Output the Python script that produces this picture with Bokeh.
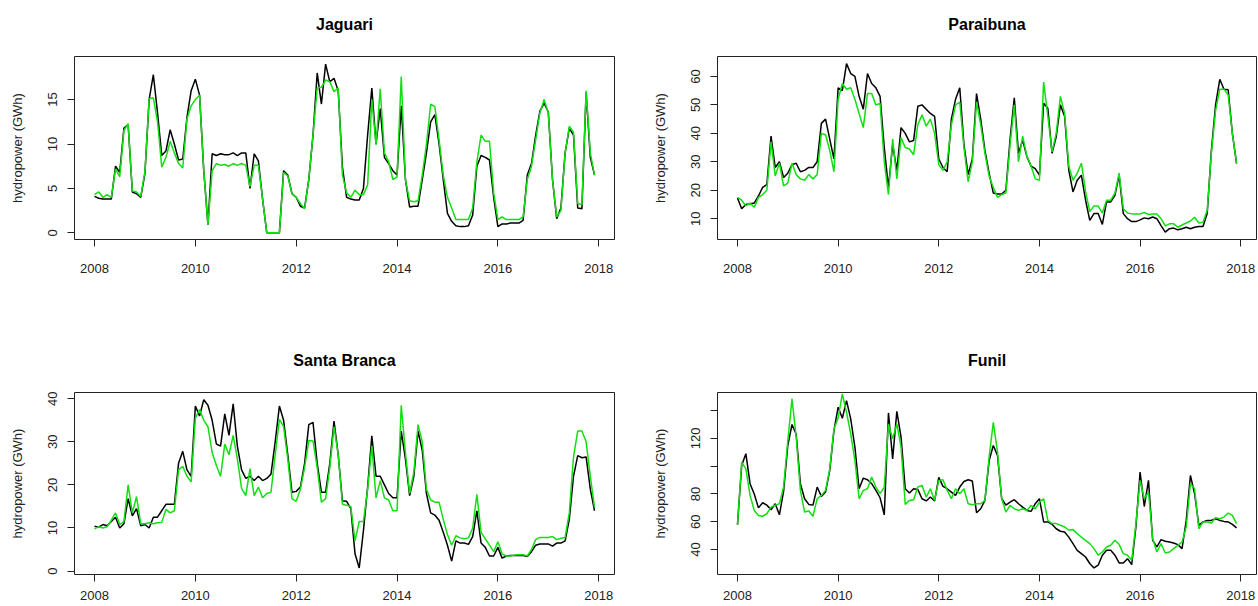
import numpy as np
from bokeh.plotting import figure
from bokeh.layouts import column, row
from bokeh.models import FixedTicker, Range1d, Title
from bokeh.embed import file_html
from bokeh.resources import INLINE

# monthly time index, Jan 2008 .. Dec 2017
years = 2008 + np.arange(120) / 12.0

jaguari_obs = [4.1, 3.9, 3.8, 3.8, 3.8, 7.5, 6.8, 11.8, 12.2, 4.6, 4.4, 4.0,
               6.7, 15.0, 17.8, 13.5, 8.7, 9.2, 11.6, 10.0, 8.2, 8.3, 13.0, 16.0,
               17.3, 15.5, 7.0, 0.9, 8.9, 8.7, 8.9, 8.8, 8.8, 9.0, 8.7, 9.0,
               9.0, 5.0, 8.9, 8.1, 3.8, 0.0, 0.0, 0.0, 0.0, 7.0, 6.5, 4.4,
               4.0, 3.0, 2.8, 6.0, 11.0, 18.0, 14.5, 19.0, 17.0, 17.4, 16.0, 7.4,
               4.0, 3.8, 3.7, 3.7, 5.0, 11.0, 16.3, 10.0, 14.0, 8.5, 7.8, 7.0,
               6.5, 14.3, 6.0, 2.9, 3.0, 3.0, 6.0, 9.0, 12.5, 13.3, 10.0, 6.0,
               2.2, 1.3, 0.8, 0.7, 0.7, 0.8, 2.0, 7.5, 8.7, 8.5, 8.2, 4.0,
               0.7, 1.0, 1.0, 1.1, 1.1, 1.1, 1.4, 6.5, 7.8, 11.0, 13.7, 14.6,
               13.6, 6.0, 1.6, 2.8, 9.0, 11.8, 11.0, 2.8, 2.7, 15.8, 8.5, 6.5]
jaguari_sim = [4.3, 4.6, 4.0, 4.3, 4.0, 7.2, 6.3, 11.5, 12.3, 4.7, 4.6, 4.1,
               6.9, 15.1, 15.2, 12.5, 7.4, 8.5, 10.3, 9.0, 7.8, 7.3, 12.8, 14.3,
               15.0, 15.5, 7.0, 0.9, 7.0, 7.8, 7.6, 7.7, 7.5, 7.8, 7.6, 7.8,
               7.6, 5.2, 7.6, 7.6, 3.8, 0.0, 0.0, 0.0, 0.0, 6.8, 6.4, 4.4,
               4.0, 3.3, 2.7, 6.0, 11.0, 16.3, 16.4, 17.2, 17.0, 15.9, 16.3, 6.5,
               4.5, 4.0, 4.8, 4.3, 4.3, 5.4, 15.0, 9.9, 16.2, 9.0, 8.0, 6.0,
               6.3, 17.6, 6.0, 3.6, 3.5, 3.6, 6.5, 10.0, 14.5, 14.2, 10.5, 6.5,
               4.0, 2.8, 1.5, 1.5, 1.5, 1.5, 2.8, 8.0, 11.0, 10.3, 10.3, 4.5,
               1.5, 1.8, 1.5, 1.5, 1.5, 1.5, 1.8, 6.0, 7.5, 10.5, 13.5, 15.0,
               13.5, 6.0, 1.8, 2.5, 9.0, 12.0, 11.3, 3.3, 3.2, 16.0, 9.0, 6.5]

paraibuna_obs = [17.3, 13.5, 15.0, 15.3, 15.5, 18.0, 21.0, 22.0, 39.0, 28.0, 30.0, 24.5,
                 26.0, 29.0, 29.5, 26.5, 27.0, 28.0, 28.0, 30.0, 43.5, 45.0, 38.0, 31.0,
                 56.0, 55.0, 64.5, 61.0, 60.0, 53.0, 48.5, 61.0, 57.5, 56.0, 53.0, 35.0,
                 21.0, 36.0, 27.0, 42.0, 40.0, 37.0, 37.5, 49.5, 50.0, 48.5, 47.0, 46.0,
                 31.0, 28.0, 26.5, 45.0, 52.0, 56.0, 36.0, 25.5, 31.0, 54.0, 45.0, 34.0,
                 26.0, 19.0, 18.7, 18.7, 20.0, 38.0, 52.5, 33.0, 37.6, 31.8, 28.5, 27.6,
                 25.3, 50.6, 48.8, 33.0, 38.8, 50.0, 46.0, 27.0, 19.4, 23.5, 25.3, 16.5,
                 9.4, 11.8, 11.8, 8.0, 15.9, 15.9, 18.2, 25.3, 11.8, 10.0, 9.0, 9.0,
                 9.6, 10.3, 10.0, 10.6, 10.0, 7.6, 5.3, 6.5, 6.7, 6.1, 6.5, 7.0,
                 6.5, 7.0, 7.3, 7.3, 11.8, 34.0, 50.0, 59.0, 55.5, 55.3, 40.0, 29.4]
paraibuna_sim = [17.5, 16.5, 14.5, 15.5, 14.0, 17.5, 18.5, 20.0, 37.0, 25.0, 29.5, 21.5,
                 22.5, 29.5, 25.5, 24.0, 23.5, 25.5, 24.0, 25.5, 40.0, 39.5, 34.0, 26.5,
                 52.0, 57.5, 55.5, 56.0, 52.0, 47.0, 42.0, 54.0, 54.0, 50.0, 50.5, 30.0,
                 18.5, 38.0, 24.0, 38.5, 35.0, 34.5, 32.5, 43.0, 46.5, 42.5, 45.0, 40.0,
                 29.0, 27.0, 30.0, 43.0, 50.0, 51.0, 35.0, 23.0, 30.0, 51.0, 43.0, 33.0,
                 25.0, 21.0, 17.5, 18.5, 19.0, 36.0, 50.0, 30.0, 39.0, 32.0, 28.5, 24.0,
                 23.5, 58.0, 46.0, 33.5, 40.0, 53.0, 47.0, 28.5, 23.5, 26.0, 29.5, 19.5,
                 12.5, 14.5, 14.5, 12.0, 16.5, 16.5, 19.0, 26.0, 13.5, 12.0, 11.7, 11.7,
                 11.7, 12.2, 11.5, 11.7, 11.7, 10.0, 7.5, 8.2, 8.2, 7.0, 7.8, 8.5,
                 9.2, 10.5, 8.5, 8.8, 13.0, 33.0, 48.0, 55.5, 55.5, 53.5, 40.0, 29.5]

santa_branca_obs = [10.4, 10.2, 10.8, 10.5, 11.5, 12.5, 10.0, 11.0, 16.8, 12.8, 14.5, 10.5,
                    10.8, 10.0, 12.5, 12.5, 14.0, 15.5, 15.5, 15.5, 25.0, 27.8, 23.5, 22.0,
                    38.3, 36.0, 39.8, 38.5, 35.0, 29.5, 29.0, 36.5, 31.5, 38.8, 29.0, 23.5,
                    21.5, 22.0, 21.0, 22.0, 21.0, 21.5, 22.5, 30.0, 38.3, 35.0, 27.0, 18.3,
                    18.5, 19.5, 25.0, 34.0, 34.5, 25.0, 18.3, 18.3, 25.0, 34.8, 27.0, 16.3,
                    16.2, 14.5, 4.0, 0.7, 9.4, 19.5, 31.4, 22.0, 22.0, 20.0, 18.0, 17.0,
                    17.0, 32.5, 26.0, 17.5, 22.0, 32.5, 28.0, 18.0, 13.5, 13.0, 11.8, 9.0,
                    6.0, 2.3, 7.0, 6.5, 6.5, 6.2, 8.0, 14.0, 6.5, 5.5, 3.5, 3.5,
                    5.5, 3.0, 3.5, 3.6, 3.6, 3.6, 3.6, 3.4, 4.5, 6.0, 6.3, 6.3,
                    6.3, 5.8, 6.5, 6.5, 7.0, 12.0, 22.0, 26.8, 26.3, 26.5, 19.0, 14.0]
santa_branca_sim = [9.8, 10.3, 10.0, 10.3, 11.8, 13.5, 10.8, 11.5, 20.0, 13.5, 17.3, 11.0,
                    11.0, 11.2, 11.0, 11.2, 11.3, 14.3, 13.5, 14.0, 23.5, 24.3, 22.0, 20.7,
                    35.5, 37.5, 35.0, 33.5, 27.5, 24.5, 22.0, 29.5, 27.0, 31.5, 26.0, 19.2,
                    17.5, 23.8, 17.5, 19.5, 17.0, 18.0, 18.3, 27.0, 35.2, 33.5, 26.0, 16.8,
                    16.2, 19.0, 24.0, 30.3, 30.2, 24.0, 16.0, 16.8, 24.0, 33.5, 27.0, 15.5,
                    15.3, 15.0, 7.0, 11.5, 11.5, 19.0, 29.0, 17.0, 21.0, 17.0, 16.5, 14.0,
                    14.0, 38.5, 27.5, 18.0, 23.0, 34.0, 30.0, 19.0, 16.5, 16.0, 16.0, 12.0,
                    8.5, 6.0, 8.2, 7.7, 7.5, 7.7, 10.0, 17.8, 9.0, 7.5, 6.0, 4.5,
                    6.8, 4.0, 3.5, 3.5, 3.7, 3.8, 3.8, 3.5, 5.0, 7.3, 7.8, 7.8,
                    7.8, 8.0, 7.3, 7.6, 7.8, 13.5, 26.5, 32.5, 32.5, 30.0, 22.0, 14.8]

funil_obs = [58.0, 100.5, 109.0, 87.4, 80.0, 70.0, 73.7, 72.0, 68.7, 73.0, 65.0, 82.0,
             115.0, 130.0, 123.0, 87.4, 76.6, 72.5, 72.0, 85.0, 78.3, 81.4, 97.0, 125.6,
             142.4, 134.5, 147.2, 134.0, 113.7, 83.8, 91.4, 90.2, 87.4, 82.6, 77.3, 65.0,
             138.3, 105.3, 139.5, 120.9, 83.8, 80.7, 83.8, 83.3, 76.6, 75.0, 77.8, 75.0,
             92.0, 85.5, 83.8, 81.4, 79.0, 85.0, 89.0, 90.2, 89.3, 66.5, 69.4, 75.4,
             104.0, 114.9, 107.7, 76.6, 72.0, 74.2, 75.9, 73.0, 70.6, 68.2, 67.5, 73.0,
             76.6, 59.9, 59.9, 58.2, 55.0, 53.2, 52.7, 49.0, 44.3, 39.5, 37.1, 34.7,
             30.0, 26.8, 28.8, 36.0, 39.5, 39.5, 36.0, 30.4, 30.4, 33.5, 29.2, 56.3,
             95.7, 71.0, 89.8, 46.7, 41.9, 47.2, 46.0, 45.5, 44.8, 43.6, 40.7, 61.0,
             93.3, 80.2, 57.5, 59.9, 61.0, 61.0, 62.2, 61.0, 60.3, 59.9, 58.2, 55.6]
funil_sim = [58.0, 103.0, 98.0, 79.0, 68.2, 64.6, 64.0, 65.8, 70.6, 72.0, 73.0, 85.0,
             118.5, 148.4, 120.9, 82.6, 67.0, 67.8, 64.0, 76.6, 79.0, 82.6, 98.0, 126.8,
             134.7, 152.0, 138.8, 123.3, 104.0, 76.6, 82.6, 83.8, 92.2, 85.0, 80.2, 85.0,
             130.4, 119.7, 130.4, 113.7, 72.5, 75.4, 75.9, 85.0, 86.2, 77.8, 83.8, 75.4,
             89.8, 90.2, 82.6, 76.6, 83.8, 80.2, 83.8, 73.0, 72.3, 73.0, 73.0, 75.4,
             106.5, 131.6, 110.1, 76.6, 67.0, 71.8, 69.4, 68.2, 69.4, 68.2, 71.8, 69.4,
             74.2, 76.6, 61.0, 58.7, 58.7, 57.5, 56.3, 53.9, 54.4, 51.5, 49.0, 46.7,
             44.3, 40.7, 36.0, 38.3, 41.9, 43.1, 46.7, 43.8, 37.1, 36.0, 32.3, 58.7,
             89.8, 76.6, 81.4, 47.9, 38.3, 44.3, 37.6, 38.3, 40.7, 43.1, 45.5, 56.3,
             87.4, 83.8, 55.0, 59.9, 59.9, 59.2, 63.0, 62.2, 63.4, 66.3, 64.6, 58.7]

x_ticks = [2008, 2010, 2012, 2014, 2016, 2018]
jaguari_ticks = [0, 5, 10, 15]
paraibuna_ticks = [10, 20, 30, 40, 50, 60]
santa_branca_ticks = [0, 10, 20, 30, 40]
funil_ticks = [40, 60, 80, 100, 120, 140]
funil_tick_labels = {40: "40", 60: "60", 80: "80", 100: "", 120: "120", 140: ""}

FONT = "Liberation Sans"
GREEN = "#10E010"
X_RANGE = (2007.603, 2018.313)


def panel(title, obs, sim, yr, yticks, left, fw, right, top, fh, bottom, xstand, labels=None):
    p = figure(frame_width=fw, frame_height=fh,
               min_border_left=left, min_border_right=right,
               min_border_top=top, min_border_bottom=bottom,
               x_range=Range1d(*X_RANGE), y_range=Range1d(*yr),
               output_backend="svg", toolbar_location=None, title=title)
    p.line(years, obs, line_color="black", line_width=1.5)
    p.line(years, sim, line_color=GREEN, line_width=1.5)
    p.title.text_font = FONT
    p.title.text_font_size = "16px"
    p.title.text_font_style = "bold"
    p.title.text_color = "black"
    p.title.align = "center"
    p.title.vertical_align = "bottom"
    p.title.standoff = 0
    # spacer between the frame and the panel title
    p.add_layout(Title(text=" ", text_font_size="1px", standoff=21), "above")
    p.xgrid.visible = False
    p.ygrid.visible = False
    p.outline_line_color = "#222222"
    p.outline_line_width = 1
    p.background_fill_color = "white"
    p.border_fill_color = "white"
    for ax in (p.xaxis[0], p.yaxis[0]):
        ax.axis_line_color = None
        ax.major_tick_line_color = "#222222"
        ax.major_tick_out = 7
        ax.major_tick_in = 0
        ax.minor_tick_line_color = None
        ax.major_label_text_font = FONT
        ax.major_label_text_font_size = "13px"
        ax.major_label_text_color = "#222222"
    p.xaxis[0].ticker = FixedTicker(ticks=x_ticks)
    p.xaxis[0].major_label_standoff = xstand
    p.yaxis[0].ticker = FixedTicker(ticks=yticks)
    p.yaxis[0].major_label_orientation = "vertical"
    p.yaxis[0].major_label_standoff = 10
    if labels:
        p.yaxis[0].major_label_overrides = labels
    p.yaxis[0].axis_label = "hydropower (GWh)"
    p.yaxis[0].axis_label_text_font = FONT
    p.yaxis[0].axis_label_text_font_size = "13px"
    p.yaxis[0].axis_label_text_font_style = "normal"
    p.yaxis[0].axis_label_text_color = "#222222"
    p.yaxis[0].axis_label_standoff = 21
    return p


p1 = panel("Jaguari", jaguari_obs, jaguari_sim, (-0.75, 19.85), jaguari_ticks,
           74, 540, 15, 56, 183, 71, 17)
p2 = panel("Paraibuna", paraibuna_obs, paraibuna_sim, (2.7, 67.0), paraibuna_ticks,
           88, 539, 1, 56, 183, 71, 17)
p3 = panel("Santa Branca", santa_branca_obs, santa_branca_sim, (-0.8, 41.45), santa_branca_ticks,
           74, 540, 15, 82, 182, 31, 9)
p4 = panel("Funil", funil_obs, funil_sim, (22.1, 153.0), funil_ticks,
           88, 539, 1, 82, 182, 31, 9, funil_tick_labels)

layout = column(row(p1, p2), row(p3, p4))
open("out.html", "w").write(file_html(layout, INLINE))
